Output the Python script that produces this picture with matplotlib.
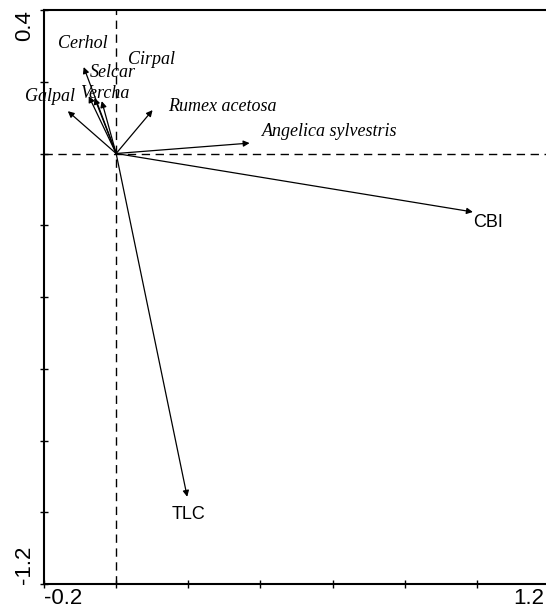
import numpy as np
import matplotlib.pyplot as plt
from matplotlib.transforms import offset_copy

# species arrows (biplot scores)
species = ["Galpal", "Cerhol", "Selcar", "Vercha", "Cirpal",
           "Rumex acetosa", "Angelica sylvestris"]
sp_x = [-0.134, -0.090, -0.076, -0.060, -0.040, 0.101, 0.370]
sp_y = [0.118, 0.241, 0.160, 0.155, 0.146, 0.121, 0.029]
# label anchors (left edge, vertical centre)
sp_lab_x = [-0.253, -0.161, -0.073, -0.100, 0.033, 0.143, 0.404]
sp_lab_y = [0.158, 0.308, 0.225, 0.166, 0.261, 0.130, 0.060]

# environmental variables
env = ["CBI", "TLC"]
env_x = [0.989, 0.197]
env_y = [-0.163, -0.957]
env_lab_x = [0.991, 0.155]
env_lab_y = [-0.191, -1.007]

fig = plt.figure(figsize=(5.46, 6.15), dpi=100)
# the scan cuts the frame just left of the right border
ax = fig.add_axes([44 / 546, 1 - 584 / 615, 505 / 546, 574 / 615])
ax.set_xlim(-0.2, 1.2)
ax.set_ylim(-1.2, 0.4)

# dashed zero lines
ax.axhline(0, color='black', lw=1, ls=(0, (6, 4)), zorder=1)
ax.axvline(0, color='black', lw=1, ls=(0, (6, 4)), zorder=1)

arrow = dict(arrowstyle='-|>', color='black', lw=0.9, mutation_scale=9,
             shrinkA=0, shrinkB=0)

for name, x, y, lx, ly in zip(species, sp_x, sp_y, sp_lab_x, sp_lab_y):
    ax.annotate("", xy=(x, y), xytext=(0, 0), arrowprops=arrow)
    ax.text(lx, ly, name, ha='left', va='center', fontsize=13,
            family='Liberation Serif', style='italic', clip_on=False)

for name, x, y, lx, ly in zip(env, env_x, env_y, env_lab_x, env_lab_y):
    ax.annotate("", xy=(x, y), xytext=(0, 0), arrowprops=arrow)
    ax.text(lx, ly, name, ha='left', va='center', fontsize=13,
            family='Liberation Sans')

# frame and ticks
for s in ['left', 'bottom', 'top']:
    ax.spines[s].set_linewidth(1.5)
ax.spines['right'].set_visible(False)
ax.set_xticks(np.arange(-0.2, 1.21, 0.2))
ax.set_yticks(np.arange(-1.2, 0.41, 0.2))
ax.tick_params(direction='inout', length=6, width=1, labelbottom=False,
               labelleft=False)

# end labels only, like the original
lab = dict(fontsize=16, family='Liberation Sans', color='black')
xt = offset_copy(ax.get_xaxis_transform(), fig=fig, x=0, y=-4, units='dots')
xt_r = offset_copy(ax.get_xaxis_transform(), fig=fig, x=-5, y=-4, units='dots')
yt = offset_copy(ax.get_yaxis_transform(), fig=fig, x=-9, y=0, units='dots')
ax.text(-0.2, 0, "-0.2", transform=xt, ha='left', va='top', **lab)
ax.text(1.2, 0, "1.2", transform=xt_r, ha='right', va='top', **lab)
ax.text(0, 0.4, "0.4", transform=yt, ha='right', va='top', rotation=90, **lab)
ax.text(0, -1.2, "-1.2", transform=yt, ha='right', va='bottom', rotation=90, **lab)

fig.savefig('out.png', dpi=100, facecolor='white')
